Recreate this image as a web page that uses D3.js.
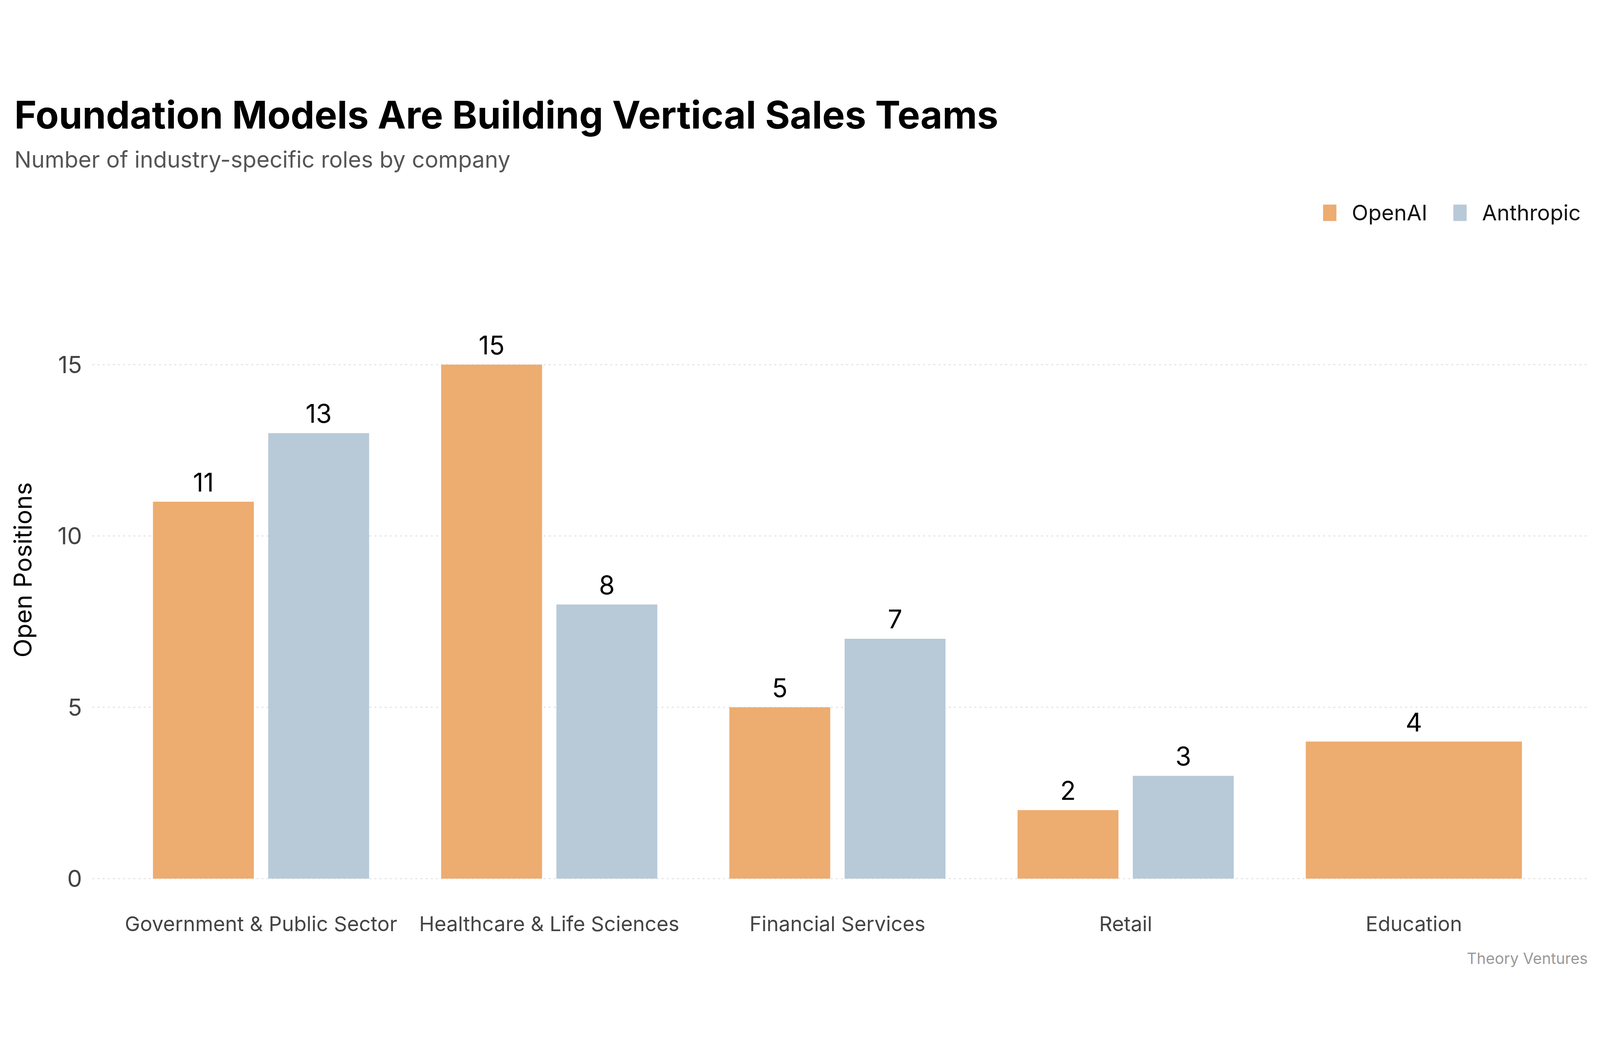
<!DOCTYPE html>
<html><head><meta charset="utf-8">
<script src="https://cdn.jsdelivr.net/npm/d3@7"></script>
<style>html,body{margin:0;padding:0;background:#fff;width:100%;height:100%;overflow:hidden}svg{display:block;width:100vw;height:100vh}</style>
</head><body>
<script>
const categories = ["Government & Public Sector","Healthcare & Life Sciences","Financial Services","Retail","Education"];
const openai = [11,15,5,2,4];
const anthropic = [13,8,7,3,null];
const seriesNames = ["OpenAI","Anthropic"];
const colors = ["#EDAC70","#B8C9D8"];
const yTicks = [0,5,10,15];

const W=1560,H=877.5;
const svg=d3.select("body").append("svg")
  .attr("viewBox",`0 0 ${W} ${H}`).attr("preserveAspectRatio","xMidYMid meet")
  .style("font-family","Inter, Roboto, sans-serif");

const x=d3.scaleBand().domain(categories).range([114,1519]).paddingInner(0.25).paddingOuter(0.125);
const y=d3.scaleLinear().domain([0,15]).range([781,280]);
const gL=90,gR=1548;

svg.append("text").attr("x",14).attr("y",50).attr("font-size",37).attr("font-weight",700).attr("fill","#000")
  .text("Foundation Models Are Building Vertical Sales Teams");
svg.append("text").attr("x",14).attr("y",88).attr("font-size",22).attr("fill","#555")
  .text("Number of industry-specific roles by company");

svg.append("g").selectAll("line").data(yTicks).join("line")
  .attr("x1",gL).attr("x2",gR).attr("y1",d=>y(d)).attr("y2",d=>y(d))
  .attr("stroke","#e3e3e3").attr("stroke-dasharray","2,3").attr("stroke-width",1);
svg.append("g").selectAll("text").data(yTicks).join("text")
  .attr("x",80).attr("y",d=>y(d)).attr("dy","0.36em").attr("text-anchor","end")
  .attr("font-size",23).attr("fill","#444").text(d=>d);
svg.append("text").attr("transform","translate(31,480) rotate(-90)").attr("text-anchor","middle")
  .attr("font-size",24).attr("fill","#000").text("Open Positions");

const gap=14;
const bars=[];
categories.forEach((c,i)=>{
  const vals=[openai[i],anthropic[i]];
  const present=vals.map((v,k)=>({v,k})).filter(d=>d.v!=null);
  const sub=d3.scaleBand().domain(present.map(d=>d.k)).range([x(c),x(c)+x.bandwidth()]);
  present.forEach(d=>{
    const n=present.length;
    const w=n>1?sub.bandwidth()-gap/2:sub.bandwidth();
    const x0=n>1?sub(d.k)+(d.k===0?0:gap/2):sub(d.k);
    bars.push({x:x0,w,v:d.v,k:d.k});
  });
});
svg.append("g").selectAll("rect").data(bars).join("rect")
  .attr("x",d=>d.x).attr("width",d=>d.w).attr("y",d=>y(d.v)).attr("height",d=>y(0)-y(d.v))
  .attr("fill",d=>colors[d.k]);
svg.append("g").selectAll("text").data(bars).join("text")
  .attr("x",d=>d.x+d.w/2).attr("y",d=>y(d.v)-10).attr("text-anchor","middle")
  .attr("font-size",25).attr("fill","#000").text(d=>d.v);

svg.append("g").selectAll("text").data(categories).join("text")
  .attr("x",d=>x(d)+x.bandwidth()/2).attr("y",832).attr("text-anchor","middle")
  .attr("font-size",20).attr("fill","#444").text(d=>d);

const leg=[{x:1290,t:1318},{x:1417,t:1445}];
leg.forEach((l,i)=>{
  svg.append("rect").attr("x",l.x).attr("y",124).attr("width",13).attr("height",16).attr("fill",colors[i]);
  svg.append("text").attr("x",l.t).attr("y",132).attr("dy","0.36em").attr("font-size",21).attr("fill","#111").text(seriesNames[i]);
});
svg.append("text").attr("x",1548).attr("y",864).attr("text-anchor","end").attr("font-size",15).attr("fill","#999").text("Theory Ventures");
</script>
</body></html>
